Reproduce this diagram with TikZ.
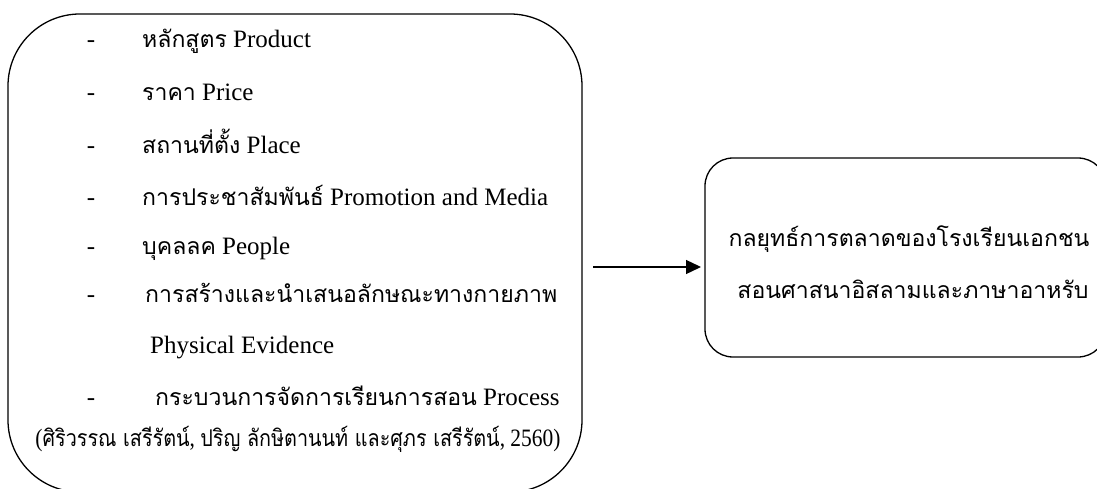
\documentclass[tikz,border=0pt]{standalone}
\usepackage{fontspec}
\setmainfont{Liberation Serif}
\newfontfamily\thaifont[Script=Thai]{Loma}
\usetikzlibrary{arrows.meta}
% calibrate Thai size so that the long line is 412pt wide
\newlength\calw
\newlength\thsize
\settowidth\calw{\thaifont\fontsize{10}{12}\selectfont การสร้างและนำเสนอลักษณะทางกายภาพ}
\setlength\thsize{\dimexpr 10pt*27000832/\number\calw\relax}% 412pt = 27000832sp
\newcommand\thtxt[1]{{\thaifont\fontsize{\thsize}{1.2\thsize}\selectfont #1}}
\tikzset{
  x=1pt,y=-1pt,
  txt/.style={anchor=base west,inner sep=0pt,font=\fontsize{25}{30}\selectfont},
  dsh/.style={anchor=base,inner sep=0pt,font=\fontsize{25}{30}\selectfont},
  box/.style={draw,line width=1.3pt},
}
\begin{document}
\begin{tikzpicture}
\useasboundingbox[fill=white] (0,0) rectangle (1097,489);
\begin{scope}
\clip (0,0) rectangle (1097,489);
\draw[box,rounded corners=72pt] (8,14) rectangle (582,492);
\draw[box,rounded corners=28pt] (705,158) rectangle (1106,357);
\end{scope}
\coordinate (astart) at (593,267);
\coordinate (rbox) at (705,267);
\node[dsh] (d1) at (91,48) {-};
\node[txt] (t1) at (142,48) {\thtxt{หลักสูตร} Product};
\node[dsh] (d2) at (91,101) {-};
\node[txt] (t2) at (142,101) {\thtxt{ราคา} Price};
\node[dsh] (d3) at (91,154) {-};
\node[txt] (t3) at (142,154) {\thtxt{สถานที่ตั้ง} Place};
\node[dsh] (d4) at (91,205) {-};
\node[txt] (t4) at (142,205) {\thtxt{การประชาสัมพันธ์} Promotion and Media};
\node[dsh] (d5) at (91,254) {-};
\node[txt] (t5) at (142,254) {\thtxt{บุคลลค} People};
\node[dsh] (d6) at (91,302) {-};
\node[txt] (t6) at (145,302) {\thtxt{การสร้างและนำเสนอลักษณะทางกายภาพ}};
\node[txt] (t6b) at (150,353) {Physical Evidence};
\node[dsh] (d7) at (91,405) {-};
\node[txt] (t7) at (155,405) {\thtxt{กระบวนการจัดการเรียนการสอน} Process};
\node[txt,anchor=base] (cite) at (298,446) {\resizebox{525pt}{\height}{(\thtxt{ศิริวรรณ เสรีรัตน์}, \thtxt{ปริญ ลักษิตานนท์ และศุภร เสรีรัตน์}, 2560)}};
\node[txt,anchor=base] (r1) at (909,246) {\thtxt{กลยุทธ์การตลาดของโรงเรียนเอกชน}};
\node[txt,anchor=base] (r2) at (913,298) {\thtxt{สอนศาสนาอิสลามและภาษาอาหรับ}};
\draw[line width=1.3pt,shorten >=4pt,-{Triangle[length=15pt,width=14pt]}] (astart) -- (rbox);
\end{tikzpicture}
\end{document}
